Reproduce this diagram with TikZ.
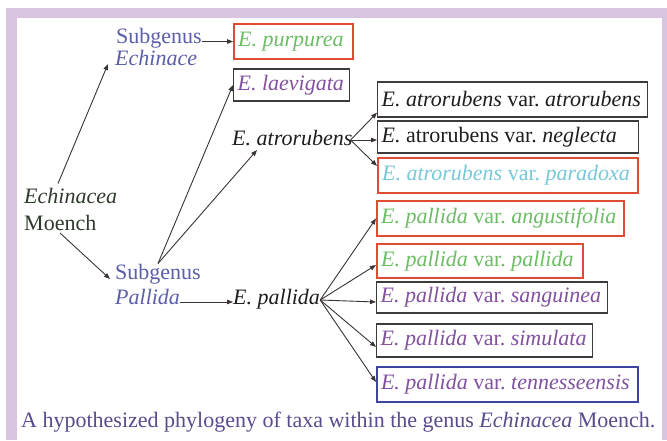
\documentclass[tikz,border=0pt]{standalone}
\usepackage{fontspec}
\setmainfont{Liberation Serif}
\usetikzlibrary{arrows.meta,calc}
\definecolor{framec}{HTML}{D8C4E0}
\definecolor{subc}{HTML}{5B5EA8}
\definecolor{darkc}{HTML}{2E3A2C}
\definecolor{tgreen}{HTML}{6CBD64}
\definecolor{tpurple}{HTML}{8251A0}
\definecolor{tcyan}{HTML}{78C8D8}
\definecolor{boxred}{HTML}{E04B32}
\definecolor{boxblack}{HTML}{3C3C3C}
\definecolor{boxblue}{HTML}{3C46A0}
\definecolor{arrowc}{HTML}{3A3434}
\definecolor{capc}{HTML}{5A4B8C}
\definecolor{textk}{HTML}{1E1E1E}
\newcommand{\tbox}[2]{\makebox[#1][l]{#2}}
\begin{document}
\frenchspacing
\begin{tikzpicture}[x=1pt,y=-1pt,
  txt/.style={font=\fontsize{22}{26}\selectfont},
  itxt/.style={font=\fontsize{22}{26}\selectfont\itshape},
  lbl/.style={txt, inner sep=0pt, anchor=base west},
  taxon/.style={txt, draw=boxblack, line width=1.3pt, anchor=west, inner xsep=4pt, inner ysep=0pt},
  redbox/.style={taxon, draw=boxred, line width=2.2pt},
  bluebox/.style={taxon, draw=boxblue, line width=2pt},
  conn/.style={draw=arrowc, line width=0.9pt, -{Triangle[length=6pt,width=4.5pt]}}
]
\useasboundingbox (0,0) rectangle (667,440);
\fill[white] (0,0) rectangle (667,440);
\fill[framec] (6,8) rectangle (667,440);
\fill[white] (17,18) rectangle (662,440);

% labels
\node[lbl, text=subc] (subE) at (116,43) {Subgenus};
\node[lbl, itxt, text=subc] (subEi) at (115,65) {Echinace};
\node[lbl, itxt, text=darkc] (gen1) at (24,203) {Echinacea};
\node[lbl, text=darkc] (gen2) at (24,230) {Moench};
\node[lbl, text=subc] (subP) at (115,279) {Subgenus};
\node[lbl, itxt, text=subc] (subPi) at (115,304) {Pallida};
\node[lbl, itxt, text=textk] (epal) at (233,304) {E. pallida};
\node[lbl, itxt, text=textk] (eatr) at (232,145) {E. atrorubens};

% boxes
\node[redbox, minimum height=35pt] (purp) at (233,41.5) {\tbox{111pt}{\textcolor{tgreen}{\textit{E. purpurea}}}};
\node[taxon, minimum height=32pt] (laev) at (233,85) {\tbox{108pt}{\textcolor{tpurple}{\textit{E. laevigata}}}};
\node[taxon, minimum height=35pt, text=textk] (atroA) at (377,99.5) {\tbox{262pt}{\textit{E. atrorubens} var. \textit{atrorubens}}};
\node[taxon, minimum height=32pt, text=textk] (neg) at (377,137) {\tbox{253pt}{\textit{E.} atrorubens var. \textit{neglecta}}};
\node[redbox, minimum height=35pt, text=tcyan] (para) at (377,175.5) {\tbox{252pt}{\textit{E. atrorubens} var. \textit{paradoxa}}};
\node[redbox, minimum height=35pt, text=tgreen] (ang) at (376,218.5) {\tbox{239pt}{\textit{E. pallida} var. \textit{angustifolia}}};
\node[redbox, minimum height=34pt, text=tgreen] (pal) at (376,261) {\tbox{198pt}{\textit{E. pallida} var. \textit{pallida}}};
\node[taxon, minimum height=31pt, text=tpurple] (sang) at (376,297.5) {\tbox{223pt}{\textit{E. pallida} var. \textit{sanguinea}}};
\node[taxon, minimum height=33pt, text=tpurple] (sim) at (376,340.5) {\tbox{208pt}{\textit{E. pallida} var. \textit{simulata}}};
\node[bluebox, minimum height=35pt, text=tpurple] (ten) at (376,384.5) {\tbox{253pt}{\textit{E. pallida} var. \textit{tennesseensis}}};

% caption
\node[lbl, text=capc] (cap) at (21,427) {A hypothesized phylogeny of taxa within the genus \textit{Echinacea} Moench.};

% connectors
\draw[conn] (subE.east |- purp.west) -- (purp.west);
\draw[conn] ([xshift=34pt,yshift=4pt]gen1.north west) -- ([xshift=-7pt,yshift=1pt]subEi.base west);
\draw[conn] ([xshift=36pt,yshift=-3pt]gen2.base west) -- ([xshift=-5pt]subP.base west);
\draw[conn] (subP.north) -- (laev.west);
\draw[conn] (subP.north) -- ([xshift=25pt,yshift=-5pt]eatr.base west);
\draw[conn] ([yshift=2pt]subPi.base east) -- ([yshift=2pt]epal.base west);

\coordinate (atB) at ([xshift=-2pt,yshift=5pt]eatr.base east);
\draw[conn] (atB) -- ([yshift=5pt]atroA.south west);
\draw[conn] (atB) -- ([yshift=-3pt]neg.west);
\draw[conn] (atB) -- ([yshift=-9pt]para.north west);

\coordinate (paB) at ([yshift=4pt]epal.base east);
\draw[conn] (paB) -- (ang.west);
\draw[conn] (paB) -- ([yshift=-4pt]pal.west);
\draw[conn] (paB) -- ([yshift=-4.5pt]sang.west);
\draw[conn] (paB) -- ([yshift=-6.5pt]sim.west);
\draw[conn] (paB) -- ([yshift=2.5pt]ten.west);
\end{tikzpicture}
\end{document}
